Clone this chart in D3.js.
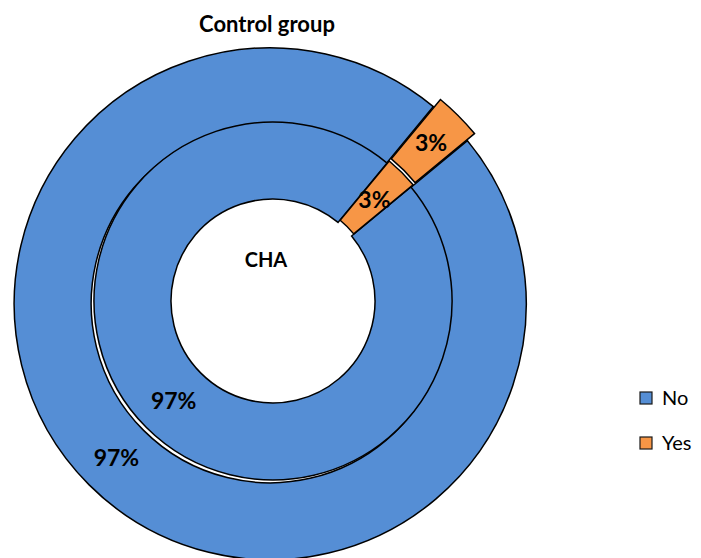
<!DOCTYPE html>
<html>
<head>
<meta charset="utf-8">
<script src="https://cdn.jsdelivr.net/npm/d3@7"></script>
<style>
  body { margin: 0; background: #fff; }
  svg text { font-family: Lato, "Open Sans", sans-serif; }
</style>
</head>
<body>
<svg id="donut" width="701" height="558"></svg>
<script>
let width = 701;
let height = 558;

// data
let title = "Control group";
let centerLabel = "CHA";
let categories = ["No", "Yes"];
let innerValues = [97, 3];
let outerValues = [97, 3];

let colors = ["#558ED5", "#F79646"];

let color = d3.scaleOrdinal()
    .domain(categories)
    .range(colors)

let svg = d3.select("#donut")

let cx = 273, cy = 301;
let holeR = 102, midR = 179, outerR = 256;
let firstAngle = 50.4 * Math.PI / 180;

// how far each slice is pulled out from the centre (px)
let explode = {
  inner: { "No": 0, "Yes": 3 },
  outer: { "No": 4, "Yes": 6 }
};

let pie = d3.pie()
    .sort(null)
    .startAngle(firstAngle)
    .endAngle(firstAngle + 2 * Math.PI)

let rings = [
  { name: "outer", values: outerValues, r0: midR, r1: outerR },
  { name: "inner", values: innerValues, r0: holeR, r1: midR }
]

let fmt = d => d + "%"

rings.forEach(ring => {
  let arc = d3.arc().innerRadius(ring.r0).outerRadius(ring.r1)
  let slices = pie(ring.values)
    .map((s, i) => Object.assign(s, { key: categories[i] }))

  let off = s => {
    let a = (s.startAngle + s.endAngle) / 2
    let e = explode[ring.name][s.key]
    return [Math.sin(a) * e, -Math.cos(a) * e]
  }

  let g = svg.append("g")
      .attr("class", "ring " + ring.name)
      .attr("transform", `translate(${cx},${cy})`)

  g.selectAll("path")
    .data(slices)
    .join("path")
      .attr("d", arc)
      .attr("transform", d => `translate(${off(d)})`)
      .attr("fill", d => color(d.key))
      .attr("stroke", "#000")
      .attr("stroke-width", 1.5)
      .attr("stroke-linejoin", "miter")

  g.selectAll("text")
    .data(slices)
    .join("text")
      .attr("x", d => arc.centroid(d)[0] + off(d)[0])
      .attr("y", d => arc.centroid(d)[1] + off(d)[1])
      .attr("dy", "0.36em")
      .attr("text-anchor", "middle")
      .style("font-size", "23px")
      .style("font-weight", "bold")
      .text(d => fmt(d.value))
})

svg.append("text")
    .attr("x", 267)
    .attr("y", 32)
    .attr("text-anchor", "middle")
    .style("font-size", "22px")
    .style("font-weight", "bold")
    .text(title)

svg.append("text")
    .attr("x", 266)
    .attr("y", 267)
    .attr("text-anchor", "middle")
    .style("font-size", "20px")
    .style("font-weight", "bold")
    .text(centerLabel)

let legend = svg.append("g")
    .attr("transform", "translate(640,392)")

let item = legend.selectAll("g")
    .data(categories)
    .join("g")
    .attr("transform", (d, i) => `translate(0,${i * 45})`)

item.append("rect")
    .attr("width", 12)
    .attr("height", 12)
    .attr("fill", d => color(d))
    .attr("stroke", "#1a1a1a")
    .attr("stroke-width", 1.2)

item.append("text")
    .attr("x", 22)
    .attr("y", 13)
    .style("font-size", "20px")
    .text(d => d)
</script>
</body>
</html>
